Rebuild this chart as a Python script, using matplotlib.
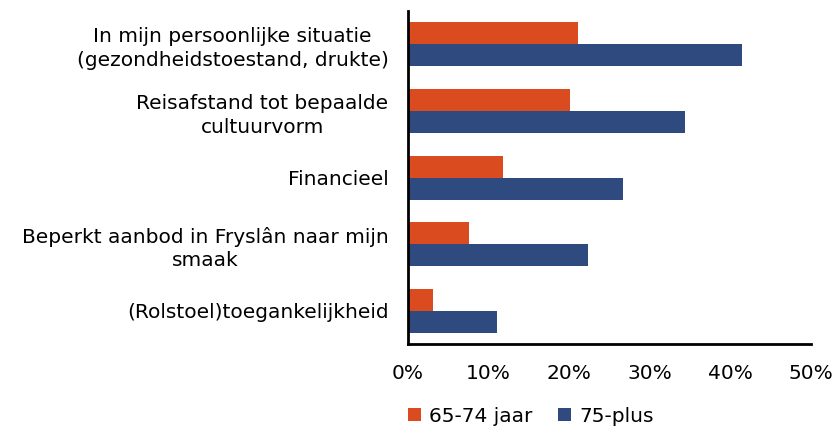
import matplotlib
matplotlib.use("Agg")
import matplotlib.pyplot as plt
import numpy as np

categories = [
    "In mijn persoonlijke situatie\n(gezondheidstoestand, drukte)",
    "Reisafstand tot bepaalde\ncultuurvorm",
    "Financieel",
    "Beperkt aanbod in Fryslân naar mijn\nsmaak",
    "(Rolstoel)toegankelijkheid",
]
series_names = ["65-74 jaar", "75-plus"]
vals_6574 = [21.1, 20.1, 11.8, 7.6, 3.1]
vals_75plus = [41.4, 34.4, 26.7, 22.3, 11.0]
xticks = [0, 10, 20, 30, 40, 50]
xticklabels = ["0%", "10%", "20%", "30%", "40%", "50%"]

orange = "#DA4B1F"
blue = "#2E4A7F"
fs = 14.5

plt.rcParams['font.family'] = ['DejaVu Sans']
fig = plt.figure(figsize=(8.36, 4.29), dpi=100)
ax = fig.add_axes([0.488, 0.198, 0.482, 0.776])

y = np.arange(len(categories))
h = 0.33
ax.barh(y - h / 2, vals_6574, height=h, color=orange, label=series_names[0])
ax.barh(y + h / 2, vals_75plus, height=h, color=blue, label=series_names[1])

ax.set_ylim(len(categories) - 0.5, -0.5)
ax.set_xlim(0, 50)
ax.set_xticks(xticks)
ax.set_xticklabels(xticklabels, fontsize=fs)
ax.set_yticks(y)
ax.set_yticklabels(categories, fontsize=fs, multialignment='center', linespacing=1.3)
ax.tick_params(axis='x', length=0, pad=14)
ax.tick_params(axis='y', length=0, pad=14)
for s in ["top", "right"]:
    ax.spines[s].set_visible(False)
for s in ["left", "bottom"]:
    ax.spines[s].set_linewidth(2)
    ax.spines[s].set_color("black")

leg = fig.legend(loc="center left", bbox_to_anchor=(0.466, 0.03), ncol=2, frameon=False,
                 fontsize=fs, handlelength=0.65, handleheight=0.65, handletextpad=0.4,
                 columnspacing=1.3)

fig.savefig("out.png", dpi=100)
